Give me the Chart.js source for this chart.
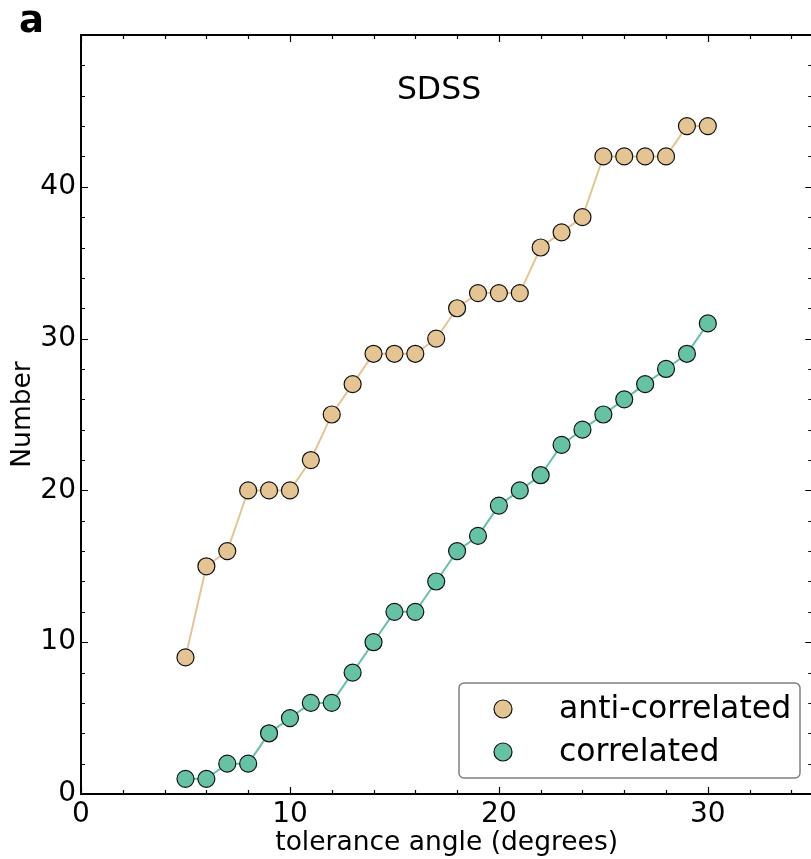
<!DOCTYPE html>
<html><head><meta charset="utf-8">
<script src="https://cdn.jsdelivr.net/npm/chart.js@4/dist/chart.umd.min.js"></script>
<style>html,body{margin:0;padding:0;overflow:hidden;background:#fff;width:811px;height:859px}#wrap{width:822px;height:859px;overflow:visible}canvas{display:block}</style>
</head><body>
<div id="wrap"><canvas id="c" width="822" height="859" style="width:822px;height:859px"></canvas></div>
<script>
const angles = [5,6,7,8,9,10,11,12,13,14,15,16,17,18,19,20,21,22,23,24,25,26,27,28,29,30];
const antiCorrelated = [9,15,16,20,20,20,22,25,27,29,29,29,30,32,33,33,33,36,37,38,42,42,42,42,44,44];
const correlated = [1,1,2,2,4,5,6,6,8,10,12,12,14,16,17,19,20,21,23,24,25,26,27,28,29,31];
const seriesNames = ['anti-correlated','correlated'];
const xTicks = [0,10,20,30];
const yTicks = [0,10,20,30,40];
const titleText = 'SDSS';
const panelLabel = 'a';
const xTitle = 'tolerance angle (degrees)';
const yTitle = 'Number';

const FONT = '"DejaVu Sans", sans-serif';
const tan = '#e5c494', green = '#66c2a5';

const framePlugin = {
  id: 'frame',
  afterDraw(chart) {
    const ctx = chart.ctx, a = chart.chartArea;
    const xs = chart.scales.x, ys = chart.scales.y;
    ctx.save();
    ctx.strokeStyle = '#000';
    ctx.lineWidth = 2;
    ctx.strokeRect(a.left, a.top, a.right - a.left, a.bottom - a.top);
    ctx.lineWidth = 1.2;
    ctx.beginPath();
    for (let v = 0; v <= 35; v += 2) {
      const major = v % 10 === 0;
      const L = major ? 7 : 4;
      const px = Math.round(xs.getPixelForValue(v)) + 0.5;
      ctx.moveTo(px, a.bottom); ctx.lineTo(px, a.bottom - L);
      ctx.moveTo(px, a.top); ctx.lineTo(px, a.top + L);
    }
    for (let v = 0; v <= 50; v += 2) {
      const major = v % 10 === 0;
      const L = major ? 7 : 4;
      const py = Math.round(ys.getPixelForValue(v)) + 0.5;
      ctx.moveTo(a.left, py); ctx.lineTo(a.left + L, py);
      ctx.moveTo(a.right, py); ctx.lineTo(a.right - L, py);
    }
    ctx.stroke();
    ctx.fillStyle = '#000';
    ctx.textAlign = 'center'; ctx.textBaseline = 'middle';
    ctx.font = '31.5px ' + FONT;
    ctx.fillText(titleText, 439, 91);
    ctx.font = 'bold 37px ' + FONT;
    ctx.textAlign = 'left';
    ctx.fillText(panelLabel, 19, 22);
    const bx = 459, by = 683, bw = 341, bh = 95, r = 5;
    ctx.fillStyle = 'rgba(255,255,255,0.9)';
    ctx.strokeStyle = '#808080';
    ctx.lineWidth = 1.5;
    ctx.beginPath();
    ctx.roundRect(bx, by, bw, bh, r);
    ctx.fill(); ctx.stroke();
    chart.data.datasets.forEach((ds, i) => {
      const cy = 709 + i * 43;
      ctx.beginPath();
      ctx.arc(503, cy, 9, 0, Math.PI * 2);
      ctx.fillStyle = ds.pointBackgroundColor;
      ctx.fill();
      ctx.strokeStyle = '#111'; ctx.lineWidth = 1.2; ctx.stroke();
      ctx.fillStyle = '#000';
      ctx.font = '31.5px ' + FONT;
      ctx.textAlign = 'left'; ctx.textBaseline = 'middle';
      ctx.fillText(ds.label, 559, cy + 1);
    });
    ctx.restore();
  }
};

new Chart(document.getElementById('c'), {
  type: 'line',
  data: {
    datasets: [
      { label: seriesNames[0], data: angles.map((x, i) => ({x, y: antiCorrelated[i]})),
        borderColor: tan, borderWidth: 2, pointBackgroundColor: tan, pointBorderColor: '#111',
        pointBorderWidth: 1.2, pointRadius: 8.5, pointHoverRadius: 8.5, tension: 0 },
      { label: seriesNames[1], data: angles.map((x, i) => ({x, y: correlated[i]})),
        borderColor: green, borderWidth: 2, pointBackgroundColor: green, pointBorderColor: '#111',
        pointBorderWidth: 1.2, pointRadius: 8.5, pointHoverRadius: 8.5, tension: 0 }
    ]
  },
  options: {
    responsive: false, animation: false,
    devicePixelRatio: 1,
    layout: { padding: { left: 0, right: 7, top: 35, bottom: 0 } },
    plugins: { legend: { display: false }, tooltip: { enabled: false } },
    scales: {
      x: {
        type: 'linear', min: 0, max: 35,
        grid: { display: false, drawTicks: false },
        border: { display: false },
        ticks: { stepSize: 10, color: '#000', font: { size: 28, family: FONT }, padding: 4,
          callback: v => xTicks.includes(v) ? String(v) : '' , maxRotation: 0},
        title: { display: true, text: xTitle, color: '#000', font: { size: 26.5, family: FONT }, padding: { top: 0, bottom: 0 } },
        afterFit: s => { s.height = 65; s.paddingLeft = 0; s.paddingRight = 0; }
      },
      y: {
        type: 'linear', min: 0, max: 50,
        grid: { display: false, drawTicks: false },
        border: { display: false },
        ticks: { stepSize: 10, color: '#000', font: { size: 28, family: FONT }, padding: 5,
          callback: v => yTicks.includes(v) ? String(v) : '' },
        title: { display: true, text: yTitle, color: '#000', font: { size: 26.5, family: FONT }, padding: { top: 7, bottom: 0 } },
        afterFit: s => { s.width = 81; s.paddingTop = 0; s.paddingBottom = 0; }
      }
    }
  },
  plugins: [framePlugin]
});
</script>
</body></html>
